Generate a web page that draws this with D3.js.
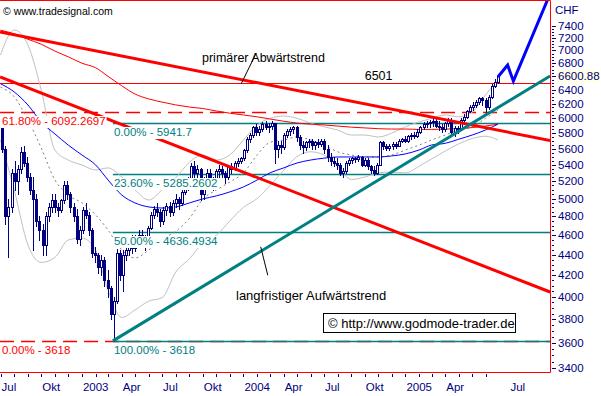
<!DOCTYPE html>
<html>
<head>
<meta charset="utf-8">
<title>SMI weekly</title>
<style>
  body { margin: 0; background: #fff; }
  svg { display: block; font-family: "Liberation Sans", Arial, sans-serif; }
</style>
</head>
<body>
<div id="chart"></div>
<script src="https://cdn.jsdelivr.net/npm/d3@7/dist/d3.min.js"></script>
<script>
(function(d3) {
  'use strict';

  // weekly candles, first bar Friday 2002-07-05
  var firstBar = '2002-07-05';
  var opens = [5880,5600,4800,4900,5300,5200,5350,5560,5420,5250,5100,5000,4750,4650,4500,4800,4900,4980,4900,4870,4980,5150,5050,4900,4800,4560,4650,4870,4820,4650,4420,4400,4280,4350,4150,4080,3850,3960,4420,4200,4400,4450,4550,4470,4560,4600,4520,4580,4680,4820,4880,4850,4750,4870,4920,4850,4950,5000,4950,5080,5150,5200,5380,5300,5350,5050,5200,5300,5200,5150,5320,5350,5300,5250,5380,5350,5420,5450,5480,5580,5720,5780,5880,5820,5860,5920,5880,5900,5930,5600,5650,5620,5780,5830,5850,5880,5750,5650,5620,5680,5700,5650,5680,5660,5700,5600,5500,5450,5420,5400,5300,5320,5420,5460,5480,5470,5500,5400,5460,5380,5330,5300,5400,5680,5640,5610,5640,5660,5640,5700,5720,5700,5760,5780,5760,5820,5880,5920,5930,5950,5960,5900,5880,5850,5930,5980,5820,5870,5850,5980,6020,6100,6160,6180,6230,6280,6250,6150,6300,6460,6520];
  var highs = [5920,5640,5000,5350,5450,5400,5620,5640,5500,5300,5250,5050,4800,4720,4850,4950,5050,5050,4950,5000,5200,5200,5080,4950,4880,4700,4900,4950,4850,4680,4480,4420,4400,4380,4250,4100,4000,4460,4450,4450,4500,4580,4600,4600,4650,4650,4600,4700,4850,4920,4950,4880,4900,4950,4960,4980,5050,5020,5100,5200,5250,5420,5450,5400,5360,5250,5350,5350,5250,5350,5400,5380,5320,5400,5420,5450,5480,5500,5600,5750,5800,5900,5920,5900,5950,5960,5940,5960,5940,5700,5700,5800,5860,5880,5900,5890,5780,5700,5700,5720,5720,5700,5720,5720,5720,5650,5550,5500,5480,5420,5360,5450,5480,5500,5500,5520,5510,5480,5480,5400,5380,5420,5700,5700,5660,5660,5680,5680,5720,5740,5760,5780,5800,5820,5850,5900,5950,5960,5980,6000,6020,5960,5920,5950,6000,6000,5900,5900,6000,6060,6120,6180,6220,6250,6300,6300,6280,6320,6480,6560,6620];
  var lows = [5560,4720,4380,4850,5100,5050,5300,5380,5200,5050,4450,4700,4550,4400,4400,4750,4850,4850,4800,4850,4950,5000,4850,4750,4520,4500,4620,4780,4600,4380,4330,4220,4200,4100,4000,3800,3618,3940,4150,4050,4350,4400,4420,4440,4500,4480,4450,4560,4660,4780,4800,4700,4720,4820,4800,4820,4900,4880,4930,5050,5100,5180,5250,5250,4980,5000,5150,5150,5100,5120,5250,5250,5180,5230,5300,5330,5380,5420,5460,5560,5680,5750,5780,5780,5830,5850,5820,5850,5420,5500,5550,5600,5750,5780,5800,5700,5600,5550,5580,5620,5600,5600,5620,5640,5550,5450,5400,5380,5350,5280,5250,5300,5400,5420,5430,5440,5380,5380,5350,5300,5280,5290,5390,5600,5580,5580,5600,5610,5630,5680,5680,5680,5720,5740,5750,5800,5860,5880,5880,5900,5880,5840,5820,5830,5900,5800,5760,5800,5840,5950,6000,6080,6120,6150,6200,6180,6080,6130,6280,6440,6500];
  var closes = [5600,4800,4900,5300,5200,5350,5560,5420,5250,5100,5000,4750,4650,4500,4800,4900,4980,4900,4870,4980,5150,5050,4900,4800,4560,4650,4870,4820,4650,4420,4400,4280,4350,4150,4080,3850,3960,4420,4200,4400,4450,4550,4470,4560,4600,4520,4580,4680,4820,4880,4850,4750,4870,4920,4850,4950,5000,4950,5080,5150,5200,5380,5300,5350,5050,5200,5300,5200,5150,5320,5350,5300,5250,5380,5350,5420,5450,5480,5580,5720,5780,5880,5820,5860,5920,5880,5900,5930,5600,5650,5620,5780,5830,5850,5880,5750,5650,5620,5680,5700,5650,5680,5660,5700,5600,5500,5450,5420,5400,5300,5320,5420,5460,5480,5470,5500,5400,5460,5380,5330,5300,5400,5680,5640,5610,5640,5660,5640,5700,5720,5700,5760,5780,5760,5820,5880,5920,5930,5950,5960,5900,5880,5850,5930,5980,5820,5870,5850,5980,6020,6100,6160,6180,6230,6280,6250,6150,6300,6460,6520,6600.88];

  // indicator lines sampled at month starts (plus last bar)
  var curveDates = ['2002-07-01','2002-08-01','2002-09-01','2002-10-01','2002-11-01','2002-12-01',
    '2003-01-01','2003-02-01','2003-03-01','2003-04-01','2003-05-01','2003-06-01','2003-07-01',
    '2003-08-01','2003-09-01','2003-10-01','2003-11-01','2003-12-01','2004-01-01','2004-02-01',
    '2004-03-01','2004-04-01','2004-05-01','2004-06-01','2004-07-01','2004-08-01','2004-09-01',
    '2004-10-01','2004-11-01','2004-12-01','2005-01-01','2005-02-01','2005-03-01','2005-04-01',
    '2005-05-01','2005-06-01','2005-07-01','2005-07-29'];
  var bandUpper = [6928,7333,7087,6398,5583,5457,5396,5335,5360,5250,5098,4983,5098,5240,5430,5520,5457,5520,5711,5909,6000,6030,6000,5935,5885,5842,5776,5776,5750,5800,5885,5950,6000,6045,6020,6085,6326,6545];
  var bandLower = [5711,5098,4499,4324,4373,4550,4570,4448,4061,3816,3881,3960,3990,4230,4360,4520,4600,4750,4900,5000,5150,5330,5500,5560,5520,5380,5220,5250,5300,5310,5300,5380,5470,5570,5660,5730,5760,5711];
  var bandMid = [6440,6300,5977,5610,5215,5040,4950,4816,4654,4448,4368,4448,4560,4640,4780,4990,5098,5190,5300,5520,5680,5711,5750,5711,5646,5560,5520,5495,5495,5520,5583,5646,5711,5776,5842,5885,6000,6114];
  var blueAvg = [6490,6370,6184,5950,5790,5646,5520,5396,5215,5040,4950,4905,4893,4905,4950,4995,5030,5075,5133,5215,5300,5360,5420,5457,5480,5495,5495,5495,5495,5508,5533,5583,5646,5668,5720,5776,5842,5920];
  var redAvg = [7330,7270,7180,7100,6990,6900,6800,6730,6600,6460,6340,6270,6225,6185,6155,6135,6100,6070,6045,6020,5990,5960,5935,5920,5910,5895,5880,5870,5860,5855,5855,5850,5850,5855,5860,5875,5895,5920];

  // trend lines (start / end)
  var edgeDates = ['2002-06-30','2005-11-24'];
  var primTrend = [7300, 5705];
  var secTrend = [6590, 4043];
  var upTrendDates = ['2003-03-12','2005-11-24'];
  var upTrend = [3618, 6605];
  var projDates = ['2005-07-29','2005-08-20','2005-09-02','2005-11-18'];
  var projValues = [6590, 6772, 6528, 7850];

  // horizontal levels
  var resistance = 6501;
  var redFibLevels = [6092.2697, 3618];
  var redFibLabels = ['61.80% - 6092.2697', '0.00% - 3618'];
  var fibLevels = [5941.7, 5285.2602, 4636.4934, 3618];
  var fibLabels = ['0.00% - 5941.7', '23.60% - 5285.2602', '50.00% - 4636.4934', '100.00% - 3618'];
  var lastPrice = 6600.88;

  var monthLabelDates = ['2002-07-01','2002-10-01','2003-01-01','2003-04-01','2003-07-01','2003-10-01',
    '2004-01-01','2004-04-01','2004-07-01','2004-10-01','2005-01-01','2005-04-01','2005-08-24'];
  var monthLabels = ['Jul','Okt','2003','Apr','Jul','Okt','2004','Apr','Jul','Okt','2005','Apr','Jul'];

  var width = 601, height = 396;
  var plotR = 550, plotB = 372;
  var navy = '#000080', red = '#ff0000', teal = '#008080';
  var parse = d3.timeParse('%Y-%m-%d');

  var x = d3.scaleTime()
    .domain([parse('2002-07-01'), parse('2005-07-01')])
    .range([0.5, 485.5]);
  var y = d3.scaleLog()
    .domain([3400, 7400])
    .range([368.2, 26]);

  var svg = d3.select('#chart').append('svg')
    .attr('width', width).attr('height', height);
  svg.append('rect').attr('width', width).attr('height', height).attr('fill', '#fff');

  svg.append('clipPath').attr('id', 'plot')
    .append('rect').attr('x', 0).attr('y', 0).attr('width', plotR).attr('height', plotB);
  var plot = svg.append('g').attr('clip-path', 'url(#plot)');

  var cDates = curveDates.map(parse);
  function curve(vals) {
    return d3.line()
      .x(function(d, i) { return x(cDates[i]); })
      .y(function(d) { return y(d); })
      .curve(d3.curveMonotoneX)(vals);
  }
  function seg(dates, vals) {
    return d3.line()
      .x(function(d, i) { return x(parse(dates[i])); })
      .y(function(d) { return y(d); })(vals);
  }

  // horizontal levels
  var xL = x(parse(edgeDates[0])), xR = x(parse(edgeDates[1]));
  var xLow = x(parse(upTrendDates[0]));
  plot.append('line').attr('x1', xL).attr('x2', xR)
    .attr('y1', Math.round(y(resistance)) + 0.5).attr('y2', Math.round(y(resistance)) + 0.5)
    .attr('stroke', red).attr('stroke-width', 1);
  plot.selectAll('.rfib').data(redFibLevels).enter().append('line')
    .attr('x1', xL).attr('x2', xR)
    .attr('y1', function(d) { return Math.round(y(d)) + 0.5; })
    .attr('y2', function(d) { return Math.round(y(d)) + 0.5; })
    .attr('stroke', red).attr('stroke-width', 1.5).attr('stroke-dasharray', '14,7');
  plot.selectAll('.tfib').data(fibLevels).enter().append('line')
    .attr('x1', xLow).attr('x2', xR)
    .attr('y1', function(d) { return Math.round(y(d)) + 0.5; })
    .attr('y2', function(d) { return Math.round(y(d)) + 0.5; })
    .attr('stroke', teal).attr('stroke-width', 1.5);

  // bollinger + averages
  plot.append('path').attr('d', curve(bandUpper)).attr('fill', 'none').attr('stroke', '#c0c0c0');
  plot.append('path').attr('d', curve(bandLower)).attr('fill', 'none').attr('stroke', '#c0c0c0');
  plot.append('path').attr('d', curve(bandMid)).attr('fill', 'none').attr('stroke', '#808080')
    .attr('stroke-dasharray', '2,3');
  plot.append('path').attr('d', curve(redAvg)).attr('fill', 'none').attr('stroke', red);
  plot.append('path').attr('d', curve(blueAvg)).attr('fill', 'none').attr('stroke', '#0000ff');

  // candles
  var bars = closes.map(function(c, i) {
    return { date: d3.timeWeek.offset(parse(firstBar), i), o: opens[i], h: highs[i], l: lows[i], c: c };
  });
  var cg = plot.append('g');
  bars.forEach(function(b) {
    var cx = Math.round(x(b.date));
    cg.append('line').attr('x1', cx + 0.5).attr('x2', cx + 0.5)
      .attr('y1', Math.round(y(b.h))).attr('y2', Math.round(y(b.l)) + 1)
      .attr('stroke', navy);
    var top = Math.round(y(Math.max(b.o, b.c)));
    var bot = Math.round(y(Math.min(b.o, b.c)));
    cg.append('rect').attr('x', cx - 0.5).attr('y', top + 0.5)
      .attr('width', 2).attr('height', Math.max(bot - top, 1))
      .attr('fill', b.c >= b.o ? '#fff' : navy).attr('stroke', navy);
  });

  // trend lines
  plot.append('path').attr('d', seg(edgeDates, primTrend)).attr('stroke', red).attr('stroke-width', 3);
  plot.append('path').attr('d', seg(edgeDates, secTrend)).attr('stroke', red).attr('stroke-width', 3);
  plot.append('path').attr('d', seg(upTrendDates, upTrend)).attr('stroke', teal).attr('stroke-width', 3);
  plot.append('path').attr('d', seg(projDates, projValues)).attr('fill', 'none')
    .attr('stroke', '#0000ff').attr('stroke-width', 3);

  // level labels with white backing
  function boxed(g, tx, ty, txt, color) {
    var r = g.append('rect').attr('fill', '#fff');
    var t = g.append('text').attr('x', tx).attr('y', ty).attr('font-size', 11.5)
      .attr('fill', color).text(txt);
    var bb = t.node().getBBox();
    r.attr('x', bb.x - 1).attr('y', bb.y + 1).attr('width', bb.width + 2).attr('height', bb.height);
  }
  redFibLevels.forEach(function(v, i) {
    boxed(plot, 2, Math.round(y(v)) + 13, redFibLabels[i], red);
  });
  fibLevels.forEach(function(v, i) {
    boxed(plot, xLow + 1, Math.round(y(v)) + 13, fibLabels[i], teal);
  });

  // frame
  svg.append('path').attr('d', 'M0,0.5H' + (plotR + 0.5) + 'V' + (plotB + 0.5) + 'H0')
    .attr('fill', 'none').attr('stroke', red);

  // right axis
  var ax = svg.append('g');
  var ly = y(lastPrice);
  d3.range(3400, 7401, 50).forEach(function(v) {
    var yy = Math.round(y(v)) + 0.5;
    ax.append('line').attr('x1', 552).attr('x2', v % 200 === 0 ? 556 : 554)
      .attr('y1', yy).attr('y2', yy).attr('stroke', navy);
  });
  d3.range(3400, 7401, 200).forEach(function(v) {
    if (Math.abs(y(v) - ly) < 10) return;
    ax.append('text').attr('x', 558).attr('y', y(v) + 4).attr('font-size', 11.5)
      .attr('fill', navy).text(v);
  });
  ax.append('text').attr('x', 555).attr('y', 13.5).attr('font-size', 11.5).attr('fill', navy).text('CHF');
  ax.append('rect').attr('x', 557).attr('y', ly - 6).attr('width', 43).attr('height', 12).attr('fill', '#ffffe1');
  ax.append('line').attr('x1', 552).attr('x2', 556).attr('y1', Math.round(ly) + 0.5).attr('y2', Math.round(ly) + 0.5)
    .attr('stroke', navy);
  ax.append('text').attr('x', 558).attr('y', ly + 4).attr('font-size', 11.5).attr('fill', navy).text('6600.88');

  // bottom axis
  var months = d3.timeMonth.range(parse('2002-07-01'), parse('2005-07-02'));
  months.forEach(function(m) {
    var xx = Math.round(x(m)) + 0.5;
    svg.append('line').attr('x1', xx).attr('x2', xx).attr('y1', 374).attr('y2', 377).attr('stroke', navy);
  });
  monthLabelDates.forEach(function(d, i) {
    svg.append('text').attr('x', x(parse(d)) + 1).attr('y', 391).attr('font-size', 11.5)
      .attr('fill', navy).text(monthLabels[i]);
  });

  // annotations
  svg.append('text').attr('x', 3).attr('y', 15).attr('font-size', 10.5).text('\u00a9 www.tradesignal.com');
  svg.append('text').attr('x', 202).attr('y', 62).attr('font-size', 12.5).text('primärer Abwärtstrend');
  svg.append('path').attr('d', seg(['2004-01-30', '2003-12-27'], [6960, 6490])).attr('stroke', '#000');
  svg.append('text').attr('x', x(parse('2004-10-01'))).attr('y', y(resistance) - 3).attr('font-size', 12.5).text('6501');
  svg.append('text').attr('x', 236).attr('y', 300).attr('font-size', 13).text('langfristiger Aufwärtstrend');
  svg.append('path').attr('d', seg(['2004-02-09', '2004-02-25'], [4480, 4200])).attr('stroke', '#000');
  svg.append('rect').attr('x', 323.5).attr('y', 313.5).attr('width', 192).attr('height', 19)
    .attr('fill', '#fff').attr('stroke', '#000');
  svg.append('text').attr('x', 328).attr('y', 327.5).attr('font-size', 13).text('\u00a9 http://www.godmode-trader.de');
})(window.d3);
</script>
</body>
</html>
